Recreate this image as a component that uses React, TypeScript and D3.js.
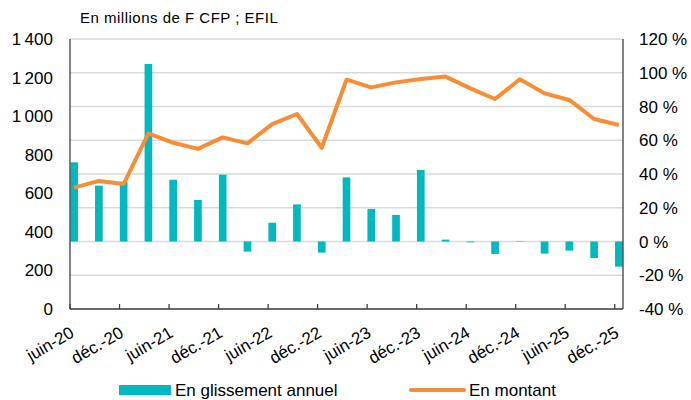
import React, { useEffect, useRef } from "react";
import * as d3 from "d3";

// quarterly points, one every 3 months from juin-20 to déc.-25
const quarters = [
  "juin-20", "sept.-20", "déc.-20",
  "mars-21", "juin-21", "sept.-21", "déc.-21",
  "mars-22", "juin-22", "sept.-22", "déc.-22",
  "mars-23", "juin-23", "sept.-23", "déc.-23",
  "mars-24", "juin-24", "sept.-24", "déc.-24",
  "mars-25", "juin-25", "sept.-25", "déc.-25",
];
// En montant (millions F CFP, left axis)
const montant = [
  629, 664, 648, 911, 862, 830, 890, 859, 959, 1011, 836, 1189,
  1149, 1175, 1193, 1205, 1144, 1089, 1191, 1118, 1084, 985, 954,
];
// En glissement annuel (%, right axis)
const glissement = [
  46.9, 33.1, 35.4, 105.2, 36.6, 24.6, 39.6, -6.0, 11.1, 22.0, -6.6, 38.0,
  19.3, 15.7, 42.4, 1.1, -0.5, -7.4, 0.2, -7.2, -5.4, -9.8, -14.9,
];
const leftTicks = [0, 200, 400, 600, 800, 1000, 1200, 1400];
const rightTicks = [-40, -20, 0, 20, 40, 60, 80, 100, 120];
const monthsPerQuarter = 3;

const W = 691, H = 400;
const m = { left: 70, right: 68, top: 39, bottom: 91 };

export default function App() {
  const ref = useRef<SVGSVGElement>(null);

  useEffect(() => {
    const svg = d3.select(ref.current);
    svg.selectAll("*").remove();
    const font = "Liberation Sans, Arial, sans-serif";

    const nMonths = (quarters.length - 1) * monthsPerQuarter + 1;
    const x = d3.scaleLinear().domain([0, nMonths]).range([m.left, W - m.right]);
    const slot = x(1) - x(0);
    const xc = (i: number) => x(i * monthsPerQuarter) + slot / 2;
    const yL = d3.scaleLinear().domain([0, 1400]).range([H - m.bottom, m.top]);
    const yR = d3.scaleLinear().domain([-40, 120]).range([H - m.bottom, m.top]);
    const fmt = (v: number) => d3.format(",")(v).replace(",", "\u202f");

    // gridlines follow the right axis
    svg.append("g")
      .selectAll("line")
      .data(rightTicks)
      .enter()
      .append("line")
      .attr("x1", m.left)
      .attr("x2", W - m.right)
      .attr("y1", d => yR(d))
      .attr("y2", d => yR(d))
      .attr("stroke", "#d9d9d9")
      .attr("stroke-width", 1.5);

    // bars
    svg.append("g")
      .selectAll("rect")
      .data(glissement)
      .enter()
      .append("rect")
      .attr("x", (d, i) => x(i * monthsPerQuarter) + 0.3)
      .attr("width", slot - 0.6)
      .attr("y", d => Math.min(yR(d), yR(0)))
      .attr("height", d => Math.abs(yR(d) - yR(0)))
      .attr("fill", "#00b8c0");

    // line
    const line = d3.line<number>()
      .x((d, i) => xc(i))
      .y(d => yL(d));
    svg.append("path")
      .attr("d", line(montant))
      .attr("fill", "none")
      .attr("stroke", "#f78d35")
      .attr("stroke-width", 4)
      .attr("stroke-linejoin", "round");

    // axes lines
    const axisColor = "#404040";
    svg.append("line")
      .attr("x1", m.left).attr("x2", m.left)
      .attr("y1", m.top).attr("y2", H - m.bottom)
      .attr("stroke", axisColor).attr("stroke-width", 1.3);
    svg.append("line")
      .attr("x1", W - m.right).attr("x2", W - m.right)
      .attr("y1", m.top).attr("y2", H - m.bottom)
      .attr("stroke", axisColor).attr("stroke-width", 1.3);
    svg.append("line")
      .attr("x1", m.left).attr("x2", W - m.right)
      .attr("y1", H - m.bottom).attr("y2", H - m.bottom)
      .attr("stroke", axisColor).attr("stroke-width", 1.5);

    // x ticks every 6 months, pointing inward
    const tickMonths = d3.range(0, nMonths + 1, 6);
    svg.append("g")
      .selectAll("line")
      .data(tickMonths)
      .enter()
      .append("line")
      .attr("x1", d => x(d)).attr("x2", d => x(d))
      .attr("y1", H - m.bottom).attr("y2", H - m.bottom - 5)
      .attr("stroke", axisColor).attr("stroke-width", 1.3);

    // x labels (every second quarter)
    svg.append("g")
      .selectAll("text")
      .data(quarters.map((q, i) => ({ q, i })).filter(d => d.i % 2 === 0))
      .enter()
      .append("text")
      .attr("transform", d => `translate(${xc(d.i) + 1},${H - m.bottom + 27}) rotate(-30)`)
      .attr("text-anchor", "end")
      .attr("font-family", font)
      .attr("font-size", 17)
      .attr("fill", "#000")
      .text(d => d.q);

    // left labels
    svg.append("g")
      .selectAll("text")
      .data(leftTicks)
      .enter()
      .append("text")
      .attr("x", 53)
      .attr("y", d => yL(d) + 6)
      .attr("text-anchor", "end")
      .attr("font-family", font)
      .attr("font-size", 17)
      .text(d => fmt(d));

    // right labels
    svg.append("g")
      .selectAll("text")
      .data(rightTicks)
      .enter()
      .append("text")
      .attr("x", 639)
      .attr("y", d => yR(d) + 6)
      .attr("font-family", font)
      .attr("font-size", 17)
      .text(d => `${d} %`);

    // unit note
    svg.append("text")
      .attr("x", 80)
      .attr("y", 23)
      .attr("font-family", font)
      .attr("font-size", 15)
      .attr("letter-spacing", 0.5)
      .text("En millions de F CFP ; EFIL");

    // legend
    svg.append("rect")
      .attr("x", 119).attr("y", 385).attr("width", 52).attr("height", 10)
      .attr("fill", "#00b8c0");
    svg.append("text")
      .attr("x", 175).attr("y", 396)
      .attr("font-family", font).attr("font-size", 17)
      .text("En glissement annuel");
    svg.append("line")
      .attr("x1", 411).attr("x2", 464).attr("y1", 390).attr("y2", 390)
      .attr("stroke", "#f78d35").attr("stroke-width", 4)
      .attr("stroke-linecap", "round");
    svg.append("text")
      .attr("x", 469).attr("y", 396)
      .attr("font-family", font).attr("font-size", 17)
      .text("En montant");
  }, []);

  return (
    <svg
      ref={ref}
      width={W}
      height={H}
      style={{ position: "absolute", left: 0, top: 0, background: "#fff" }}
    />
  );
}
